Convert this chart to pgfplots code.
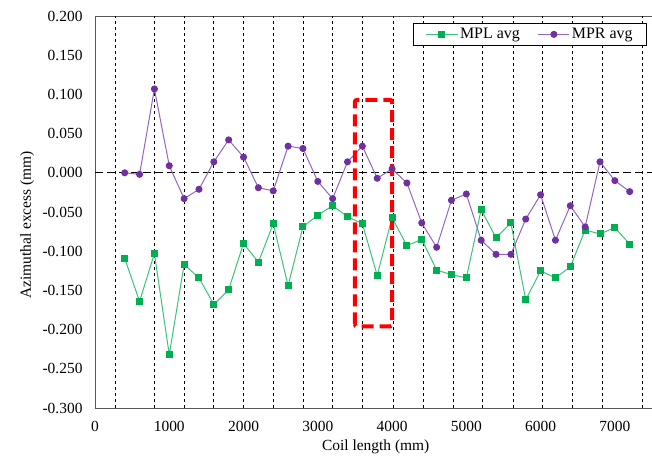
\documentclass[border=0pt]{standalone}
\usepackage{pgfplots}
\pgfplotsset{compat=1.18}
\usepackage{fontspec}
\setmainfont{Liberation Serif}
\definecolor{mplg}{HTML}{00B050}
\definecolor{mplline}{HTML}{3CC27A}
\definecolor{mprp}{HTML}{7030A0}
\definecolor{mprline}{HTML}{9466C4}
\definecolor{axgray}{HTML}{595959}
\begin{document}
\begin{tikzpicture}
\begin{axis}[
  at={(0,0)}, anchor=south west,
  scale only axis, width=557bp, height=392bp,
  xmin=0, xmax=7500, ymin=-0.3, ymax=0.2,
  xtick={0,1000,2000,3000,4000,5000,6000,7000},
  xticklabels={0,1000,2000,3000,4000,5000,6000,7000},
  ytick={-0.3,-0.25,-0.2,-0.15,-0.1,-0.05,0,0.05,0.1,0.15,0.2},
  yticklabels={-0.300,-0.250,-0.200,-0.150,-0.100,-0.050,0.000,0.050,0.100,0.150,0.200},
  major tick length=0pt,
  axis line style={draw=axgray, line width=0.8bp},
  tick label style={font=\fontsize{15.5}{18}\selectfont},
  yticklabel style={xshift=-9bp},
  xticklabel style={yshift=-10bp},
  label style={font=\fontsize{15.5}{18}\selectfont},
  xlabel={Coil length (mm)},
  ylabel={Azimuthal excess (mm)},
  xlabel style={at={(axis description cs:0.504,-0.0995)}, anchor=center},
  ylabel style={at={(axis description cs:-0.122,0.467)}, anchor=center, rotate=0},
  legend columns=2,
  legend style={at={(axis description cs:0.991,0.982)}, anchor=north east,
    draw=black, line width=0.7bp, font=\fontsize{16}{18}\selectfont,
    /tikz/every even column/.append style={column sep=16bp},
    inner xsep=12bp, inner ysep=3bp},
  legend image code/.code={\draw[mark repeat=2,mark phase=2] plot coordinates {(0cm,0cm) (0.55cm,0cm) (1.1cm,0cm)};},
]
% vertical dashed section lines
\pgfplotsinvokeforeach{280,800,1200,1600,2000,2400,2800,3200,3600,4020,4420,4820,5220,5630,6030,6430,6830,7365}{
  \draw[black, line width=0.8bp, dash pattern=on 3bp off 3bp] (axis cs:#1,-0.3) -- (axis cs:#1,0.2);
}
\draw[black, line width=0.9bp, dash pattern=on 8bp off 4bp] (axis cs:0,0) -- (axis cs:7500,0);

\addplot[draw=mplline, line width=1bp, mark=square*, mark size=3bp, mark options={solid, fill=mplg, draw=mplg}] coordinates {
(400,-0.109) (600,-0.164) (800,-0.103) (1000,-0.232) (1200,-0.117) (1400,-0.134)
(1600,-0.168) (1800,-0.149) (2000,-0.090) (2200,-0.114) (2400,-0.065) (2600,-0.144)
(2800,-0.069) (3000,-0.054) (3200,-0.042) (3400,-0.056) (3600,-0.065) (3800,-0.131)
(4000,-0.057) (4200,-0.093) (4400,-0.085) (4600,-0.124) (4800,-0.130) (5000,-0.134)
(5200,-0.047) (5400,-0.083) (5600,-0.064) (5800,-0.162) (6000,-0.125) (6200,-0.134)
(6400,-0.120) (6600,-0.073) (6800,-0.078) (7000,-0.070) (7200,-0.091)
};
\addlegendentry{MPL avg}
\addplot[draw=mprline, line width=1bp, mark=*, mark size=3bp, mark options={solid, fill=mprp, draw=mprp}] coordinates {
(400,0.000) (600,-0.002) (800,0.107) (1000,0.009) (1200,-0.033) (1400,-0.021)
(1600,0.014) (1800,0.042) (2000,0.020) (2200,-0.019) (2400,-0.023) (2600,0.034)
(2800,0.031) (3000,-0.011) (3200,-0.033) (3400,0.014) (3600,0.034) (3800,-0.007)
(4000,0.005) (4200,-0.013) (4400,-0.064) (4600,-0.095) (4800,-0.035) (5000,-0.027)
(5200,-0.086) (5400,-0.104) (5600,-0.104) (5800,-0.059) (6000,-0.028) (6200,-0.086)
(6400,-0.042) (6600,-0.069) (6800,0.014) (7000,-0.010) (7200,-0.024)
};
\addlegendentry{MPR avg}

\draw[red, line width=4bp, dash pattern=on 12bp off 6bp, rounded corners=2bp] (axis cs:3500,-0.196) rectangle (axis cs:4000,0.093);
\end{axis}
\pgfresetboundingbox
\useasboundingbox (-95bp,-52bp) rectangle (557bp,408bp);
\end{tikzpicture}
\end{document}
